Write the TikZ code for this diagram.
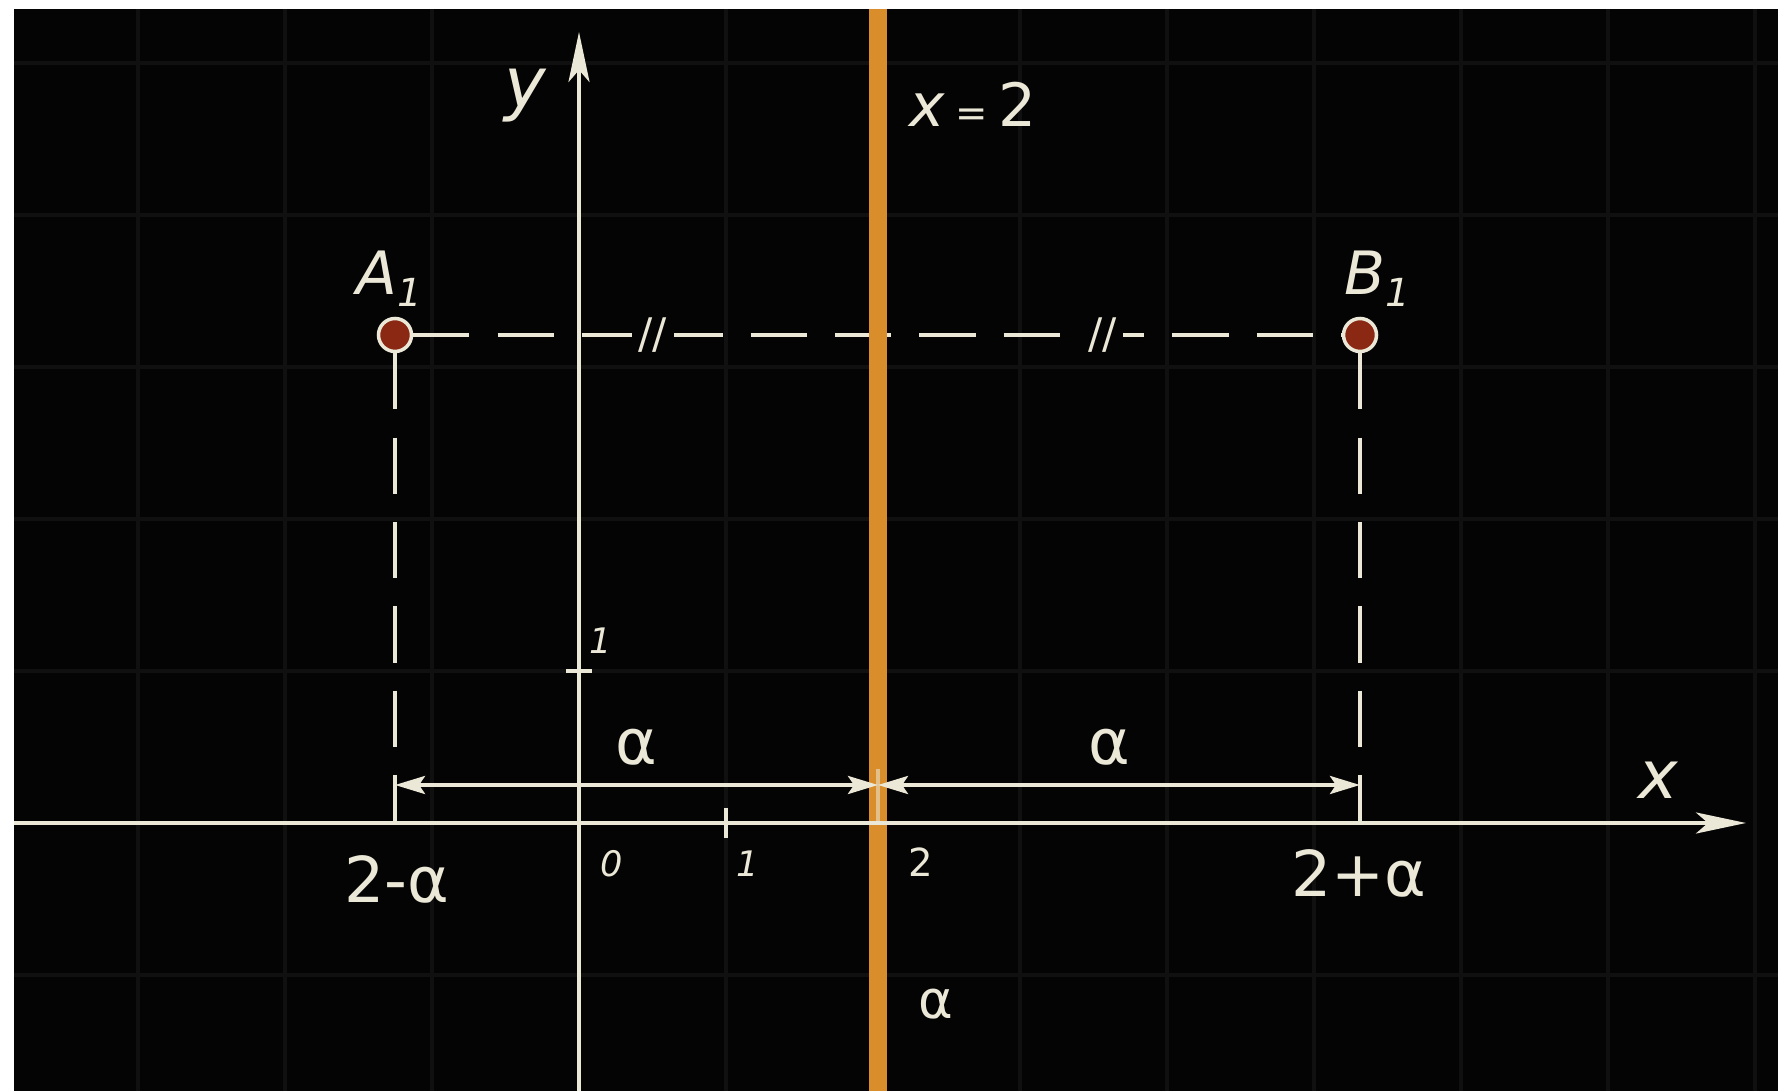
\documentclass[tikz,border=0pt]{standalone}
\usepackage{fontspec}
\setmainfont{DejaVu Sans}
\usetikzlibrary{arrows.meta,positioning}
\definecolor{board}{HTML}{040404}
\definecolor{chalk}{HTML}{ECE8D8}
\definecolor{planecol}{HTML}{D98E2B}
\definecolor{dotred}{HTML}{8A2814}
\definecolor{gridcol}{HTML}{101010}

\begin{document}
\begin{tikzpicture}[
    axis/.style={draw=chalk, line width=1.2pt, -{Stealth[length=5mm,width=2.1mm,inset=1.2mm]}},
    guide/.style={draw=chalk, line width=1.3pt, dash pattern=on 16pt off 8pt},
    dim/.style={draw=chalk, line width=1.1pt, {Stealth[length=3mm,width=1.8mm,inset=0.6mm]}-{Stealth[length=3mm,width=1.8mm,inset=0.6mm]}},
    dot/.style={circle, fill=dotred, draw=chalk, line width=1pt, minimum size=0.33cm, inner sep=0pt},
    txt/.style={text=chalk, inner sep=0pt, font=\fontsize{17}{17}\selectfont},
    small/.style={text=chalk, inner sep=0pt, font=\fontsize{10}{10}\selectfont\itshape},
    eqmark/.style={text=chalk, fill=board, inner sep=2pt, font=\fontsize{12}{12}\selectfont},
  ]
        % board and faint grid
        \fill[white] (0,0) rectangle (17.78,10.91);
        \fill[board] (0.14,0) rectangle (17.78,10.82);
        \useasboundingbox (0,0) rectangle (17.78,10.91);
        \foreach \gx in {1.38,2.85,4.32,7.26,10.20,11.67,13.14,14.61,16.08,17.55}
                \draw[gridcol, line width=1pt] (\gx,0) -- (\gx,10.82);
        \foreach \gy in {1.16,4.20,5.72,7.24,8.76,10.28}
                \draw[gridcol, line width=1pt] (0.14,\gy) -- (17.78,\gy);

        \coordinate (O) at (5.79cm, 2.68cm);
        \coordinate (xl) at (0.14cm, 2.68cm);
        \coordinate (xr) at (17.46cm, 2.68cm);
        \coordinate (yb) at (5.79cm, 0cm);
        \coordinate (yt) at (5.79cm, 10.59cm);
        \coordinate (pt) at (8.78cm, 10.82cm);
        \coordinate (pb) at (8.78cm, 0cm);
        \coordinate (px) at (8.78cm, 2.68cm);
        \coordinate (pe) at (8.78cm, 3.22cm);
        \coordinate (t1u) at (7.26cm, 2.83cm);
        \coordinate (t1d) at (7.26cm, 2.53cm);
        \coordinate (s1l) at (5.66cm, 4.20cm);
        \coordinate (s1r) at (5.92cm, 4.20cm);
        \node (a1) [dot] at (3.95cm, 7.56cm) {};
        \node (b1) [dot] at (13.60cm, 7.56cm) {};
        \coordinate (fa) at (3.95cm, 2.68cm);
        \coordinate (fb) at (13.60cm, 2.68cm);
        \coordinate (ea) at (3.95cm, 3.16cm);
        \coordinate (eb) at (13.60cm, 3.16cm);
        \coordinate (da) at (3.95cm, 3.06cm);
        \coordinate (dm) at (8.78cm, 3.06cm);
        \coordinate (db) at (13.60cm, 3.06cm);

        % dashed guides
        \draw[guide] (a1) -- node[eqmark, pos=0.258] (m1) {//} node[eqmark, pos=0.742] (m2) {//} (b1);
        \draw[guide] (a1) -- (ea);
        \draw[guide] (b1) -- (eb);
        \draw[draw=chalk, line width=1.2pt] (ea) -- (fa);
        \draw[draw=chalk, line width=1.2pt] (eb) -- (fb);

        % plane x=2
        \draw[planecol, line width=0.18cm] (pb) -- (pt);
        \draw[chalk, line width=1pt, opacity=0.55] (pe) -- (px);

        % axes
        \draw[axis] (xl) -- (xr);
        \draw[axis] (yb) -- (yt);
        \draw[draw=chalk, line width=1pt] (t1u) -- (t1d);
        \draw[draw=chalk, line width=1pt] (s1l) -- (s1r);

        % distances
        \draw[dim] (da) -- node[txt, font=\fontsize{18}{18}\selectfont, above=5pt] (al1) {α} (dm);
        \draw[dim] (dm) -- node[txt, font=\fontsize{18}{18}\selectfont, above=5pt, xshift=-0.1cm] (al2) {α} (db);

        \node (a1lab) [txt, above=0.1cm of a1, xshift=-0.06cm] {\itshape A\raisebox{-0.35ex}{\fontsize{11}{11}\selectfont 1}};
        \node (b1lab) [txt, above=0.1cm of b1, xshift=0.17cm] {\itshape B\raisebox{-0.35ex}{\fontsize{11}{11}\selectfont 1}};
        \node (ylab) [txt, font=\fontsize{20}{20}\selectfont\itshape] at (5.25cm, 9.95cm) {y};
        \node (xlab) [txt, font=\fontsize{19}{19}\selectfont\itshape] at (16.58cm, 3.11cm) {x};
        \node (plab) [txt] at (9.73cm, 9.87cm) {\textit{x}\,{\fontsize{11}{11}\selectfont =}\,2};
        \node (palab) [txt, font=\fontsize{15}{15}\selectfont] at (9.36cm, 0.87cm) {α};
        \node (n0) [small] at (6.12cm, 2.27cm) {0};
        \node (n1) [small] at (7.48cm, 2.27cm) {1};
        \node (n2) [small, font=\fontsize{11}{11}\selectfont] at (9.21cm, 2.29cm) {2};
        \node (ny1) [small] at (6.01cm, 4.50cm) {1};
        \node (lmin) [txt, font=\fontsize{18}{18}\selectfont] at (3.97cm, 2.12cm) {2-α};
        \node (lplus) [txt, font=\fontsize{18}{18}\selectfont] at (13.59cm, 2.18cm) {2+α};
\end{tikzpicture}
\end{document}
